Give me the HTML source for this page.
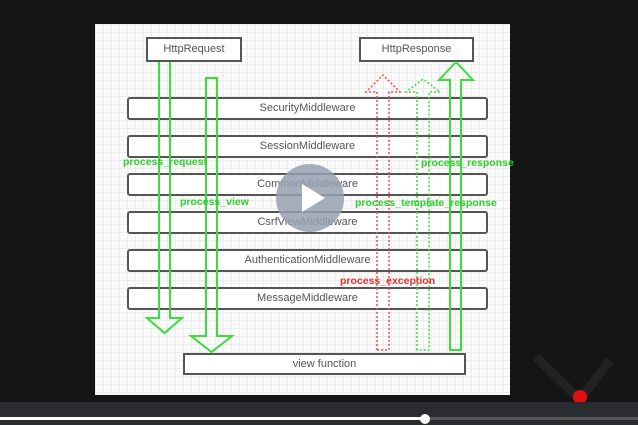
<!DOCTYPE html>
<html><head><style>
body{margin:0;width:638px;height:425px;background:#151515;position:relative;overflow:hidden;font-family:"Liberation Sans",sans-serif}
.panel{position:absolute;left:95px;top:24px;width:415px;height:371px;background-color:#fbfbfb;
background-image:linear-gradient(#ececec 1px,transparent 1px),linear-gradient(90deg,#ececec 1px,transparent 1px);background-size:8px 8px}
.b{position:absolute;border:2px solid #555;background:#fff;box-sizing:border-box;text-align:center;font-size:11px;color:#555;border-radius:3px}
.l{position:absolute;font-size:10.5px;font-weight:bold;color:#2ad12a;white-space:nowrap}
</style></head><body>
<div class="panel"></div>
<div class="b" style="left:146px;top:37px;width:96px;height:25px;line-height:21px;border-radius:0">HttpRequest</div>
<div class="b" style="left:359px;top:37px;width:115px;height:25px;line-height:21px;border-radius:0">HttpResponse</div>
<div class="b" style="left:127px;top:97px;width:361px;height:23px;line-height:19px">SecurityMiddleware</div>
<div class="b" style="left:127px;top:135px;width:361px;height:23px;line-height:19px">SessionMiddleware</div>
<div class="b" style="left:127px;top:173px;width:361px;height:23px;line-height:19px">CommonMiddleware</div>
<div class="b" style="left:127px;top:211px;width:361px;height:23px;line-height:19px">CsrfViewMiddleware</div>
<div class="b" style="left:127px;top:249px;width:361px;height:23px;line-height:19px">AuthenticationMiddleware</div>
<div class="b" style="left:127px;top:287px;width:361px;height:23px;line-height:19px">MessageMiddleware</div>
<div class="b" style="left:183px;top:353px;width:283px;height:22px;line-height:18px;border-radius:0">view function</div>
<svg width="638" height="425" style="position:absolute;left:0;top:0">
<g fill="none" stroke="#3cdc3c" stroke-width="2">
<path d="M159 62 V318 H147 L164.5 333 L182 318 H170 V62"/>
<path d="M206 78 V336 H191 L211.5 352 L232 336 H217 V78 Z"/>
<path d="M450 350 V80 H439 L456 62 L473 80 H461 V350 Z"/>
</g>
<path d="M377 350 V92 H366 L383 75 L400 92 H389 V350 Z" fill="none" stroke="#f04a4a" stroke-width="1.5" stroke-dasharray="2,2"/>
<path d="M417 350 V92 H406 L423 79 L440 92 H429 V350 Z" fill="none" stroke="#3cdc3c" stroke-width="1.5" stroke-dasharray="2,2"/>
<circle cx="310" cy="198" r="34" fill="rgba(150,160,175,0.85)"/>
<path d="M302 184 L302 212 L325 198 Z" fill="#fff"/>
<path d="M536 357 L580 400 L610 360" fill="none" stroke="#222" stroke-width="9"/>
<circle cx="580" cy="397" r="7" fill="#e01010"/>
<rect x="0" y="402" width="638" height="23" fill="#2a2d30"/>
<rect x="0" y="417" width="425" height="3" fill="#fff"/>
<rect x="425" y="417" width="213" height="3" fill="#555"/>
<circle cx="425" cy="419" r="5" fill="#fff"/>
</svg>
<div class="l" style="left:123px;top:156px">process_request</div>
<div class="l" style="left:180px;top:196px">process_view</div>
<div class="l" style="left:421px;top:157px">process_response</div>
<div class="l" style="left:355px;top:197px">process_template_response</div>
<div class="l" style="left:340px;top:275px;color:#e83030">process_exception</div>
</body></html>
